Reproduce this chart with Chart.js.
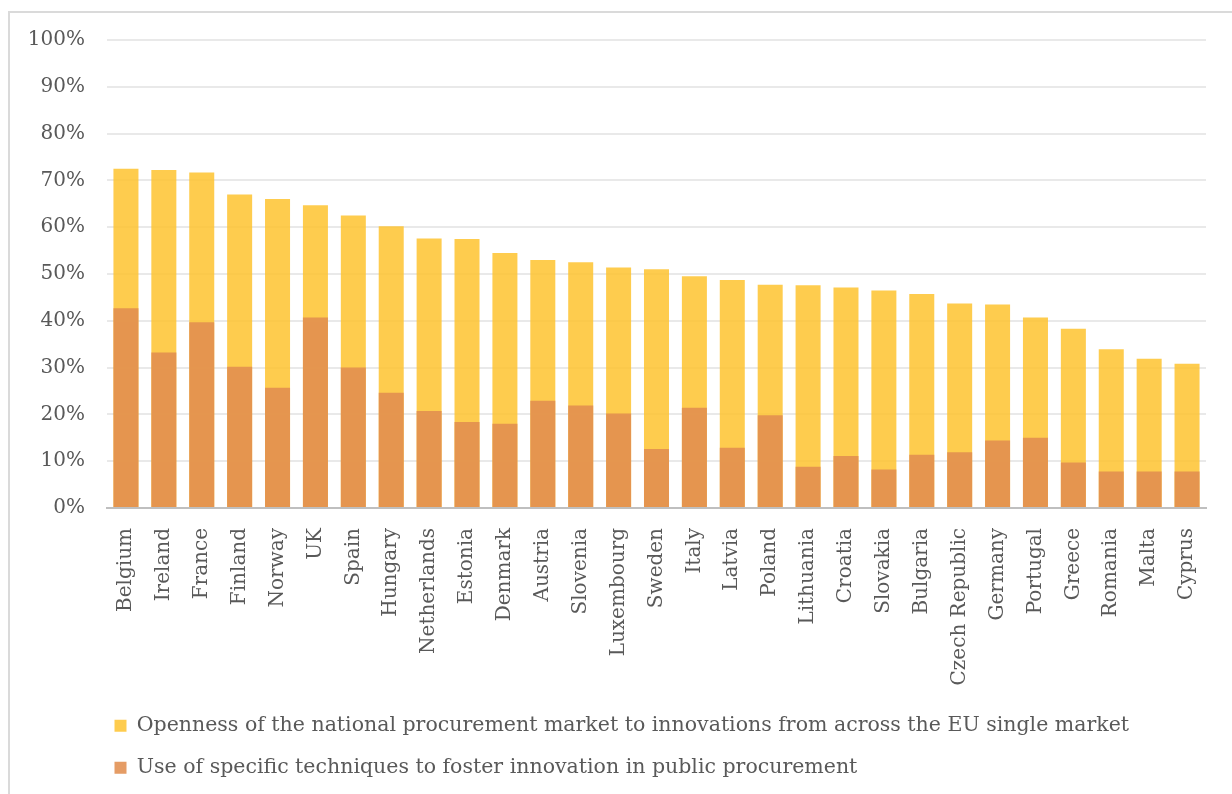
<!DOCTYPE html>
<html>
<head>
<meta charset="utf-8">
<script src="https://cdn.jsdelivr.net/npm/chart.js@4/dist/chart.umd.min.js"></script>
<style>
  html, body { margin: 0; padding: 0; background: #fff; overflow: hidden; }
  #frame {
    position: absolute; left: 8px; top: 11px;
    width: 1250px; height: 820px;
    border: 2px solid #dadada;
  }
  #chart { position: absolute; left: 0; top: 0; }
</style>
</head>
<body>
<div id="frame"></div>
<canvas id="chart" width="1232" height="794"></canvas>
<script>
// ── Data ────────────────────────────────────────────
const countries = [
  "Belgium", "Ireland", "France", "Finland", "Norway", "UK", "Spain", "Hungary",
  "Netherlands", "Estonia", "Denmark", "Austria", "Slovenia", "Luxembourg",
  "Sweden", "Italy", "Latvia", "Poland", "Lithuania", "Croatia", "Slovakia",
  "Bulgaria", "Czech Republic", "Germany", "Portugal", "Greece", "Romania",
  "Malta", "Cyprus"
];

// openness of the national procurement market (%)
const openness = [
  72.5, 72.2, 71.7, 67.0, 66.0, 64.7, 62.5, 60.2, 57.6, 57.5, 54.5, 53.0,
  52.5, 51.4, 51.0, 49.5, 48.7, 47.7, 47.6, 47.1, 46.5, 45.7, 43.7, 43.5,
  40.7, 38.3, 33.9, 31.9, 30.8
];

// use of specific techniques to foster innovation (%)
const techniques = [
  42.7, 33.2, 39.7, 30.2, 25.7, 40.7, 30.0, 24.6, 20.7, 18.4, 18.0, 22.9,
  21.9, 20.2, 12.6, 21.4, 12.9, 19.8, 8.8, 11.1, 8.2, 11.4, 11.9, 14.4,
  15.0, 9.7, 7.8, 7.8, 7.8
];

const yStep = 10;

// ── Styling ─────────────────────────────────────────
const FONT = "'DejaVu Serif', 'Liberation Serif', serif";
const TEXT = "#595959";
const LEGEND_LEFT = 93;

// push the legend rows in so they line up under the plot
const legendShift = {
  id: "legendShift",
  afterLayout(chart) {
    if (chart.legend) chart.legend.left = LEGEND_LEFT;
  },
};

new Chart(document.getElementById("chart"), {
  type: "bar",
  data: {
    labels: countries,
    datasets: [
      {
        label: "Openness of the national procurement market to innovations from across the EU single market",
        data: openness,
        backgroundColor: "rgba(254,195,47,0.85)",
        grouped: false,
        order: 2,
      },
      {
        label: "Use of specific techniques to foster innovation in public procurement",
        data: techniques,
        backgroundColor: "rgba(225,142,80,0.88)",
        grouped: false,
        order: 1,
      },
    ],
  },
  options: {
    responsive: false,
    animation: false,
    devicePixelRatio: 1,
    categoryPercentage: 1,
    barPercentage: 0.66,
    layout: { padding: { left: 0, right: 26, top: 40, bottom: 6 } },
    plugins: {
      tooltip: { enabled: false },
      legend: {
        position: "bottom",
        align: "start",
        labels: {
          color: TEXT,
          font: { family: FONT, size: 20.5 },
          boxWidth: 12, boxHeight: 12,
          padding: 21.5,
          sort: (a, b) => a.datasetIndex - b.datasetIndex,
        },
      },
    },
    scales: {
      x: {
        grid: { display: false },
        border: { display: true, color: "#bfbfbf", width: 2 },
        ticks: {
          color: TEXT,
          font: { family: FONT, size: 20 },
          autoSkip: false,
          minRotation: 90, maxRotation: 90,
          padding: 12,
        },
        afterFit: s => { s.height = 186; },
      },
      y: {
        min: 0, max: 100,
        grid: { color: "#e9e9e9", lineWidth: 2, drawTicks: false },
        border: { display: false },
        ticks: {
          stepSize: yStep,
          color: TEXT,
          font: { family: FONT, size: 20 },
          padding: 22,
          callback: v => v + "%",
        },
        afterFit: s => { s.width = 107; },
      },
    },
  },
  plugins: [legendShift],
});
</script>
</body>
</html>
